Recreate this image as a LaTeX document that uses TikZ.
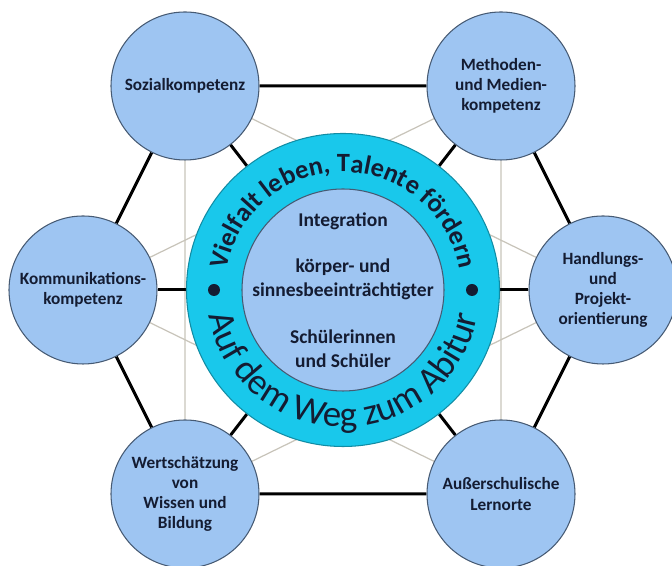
\documentclass[tikz,border=0pt]{standalone}
\usepackage{fontspec}
\setmainfont{Carlito}
\usetikzlibrary{backgrounds,decorations.text}

\definecolor{bubble}{RGB}{158,197,242}
\definecolor{bubbleline}{RGB}{70,90,115}
\definecolor{ringcyan}{RGB}{25,200,235}
\definecolor{inktext}{RGB}{20,28,50}
\definecolor{webgray}{RGB}{200,196,186}

\tikzset{
  topic/.style={circle,draw=bubbleline,line width=0.6pt,fill=bubble,minimum size=2.96cm,
    inner sep=0pt,align=center,text=inktext,font=\fontsize{9.8}{11.5}\selectfont\bfseries},
  hexline/.style={line width=1.7pt,black},
  crossline/.style={line width=0.7pt,webgray},
}

\begin{document}
\begin{tikzpicture}
\useasboundingbox (0,0) rectangle (13.44,11.32);

%------------------------------------------------
% centre ring
\node[circle,draw=ringcyan!70!black,fill=ringcyan,minimum size=6.26cm,line width=0.6pt] (ring) at (6.86,5.52) {};
\node[circle,draw=bubbleline,fill=bubble,minimum size=4.04cm,inner sep=0pt,line width=0.6pt] (core) at (ring.center) {};
\node[align=center,text=inktext,font=\fontsize{11.1}{13.6}\selectfont\bfseries] (coretext) at (core.center)
  {Integration\\[13pt]körper- und\\sinnesbeeinträchtigter\\[13pt]Schülerinnen\\und Schüler};

\path[decorate,decoration={text along path,text align=center,
  text={|\fontsize{15}{18}\selectfont\bfseries\color{inktext}|Vielfalt leben, Talente fördern}}]
  (ring.center) ++(180:2.36) arc[start angle=180,end angle=0,radius=2.36];
\path[decorate,decoration={text along path,text align=center,
  text={|\fontsize{21}{24}\selectfont\color{inktext}|Auf dem Weg zum Abitur}}]
  (ring.center) ++(180:2.74) arc[start angle=180,end angle=360,radius=2.74];

\fill[inktext] (ring.center) ++(180:2.58) circle (0.12);
\fill[inktext] (ring.center) ++(0:2.58) circle (0.12);

%------------------------------------------------
% competences
\node[topic] (sozial) at (3.70,9.60) {Sozialkompetenz};
\node[topic] (methoden) at (10.02,9.60) {Methoden-\\und Medien-\\kompetenz};
\node[topic] (kommunikation) at (1.66,5.52) {Kommunikations-\\kompetenz};
\node[topic] (handlung) at (12.06,5.52) {Handlungs-\\und\\Projekt-\\orientierung};
\node[topic] (wert) at (3.70,1.44) {Wertschätzung\\von\\Wissen und\\Bildung};
\node[topic] (lernort) at (10.02,1.44) {Außerschulische\\Lernorte};

%------------------------------------------------
% connections (behind)
\begin{scope}[on background layer]
\draw[crossline] (sozial) -- (wert) -- (handlung) -- (sozial);
\draw[crossline] (methoden) -- (lernort) -- (kommunikation) -- (methoden);
\draw[hexline] (sozial) -- (methoden) -- (handlung) -- (lernort) -- (wert) -- (kommunikation) -- (sozial);
\foreach \n in {sozial,methoden,handlung,lernort,wert,kommunikation}
  \draw[hexline] (ring) -- (\n);
\end{scope}

\end{tikzpicture}
\end{document}
